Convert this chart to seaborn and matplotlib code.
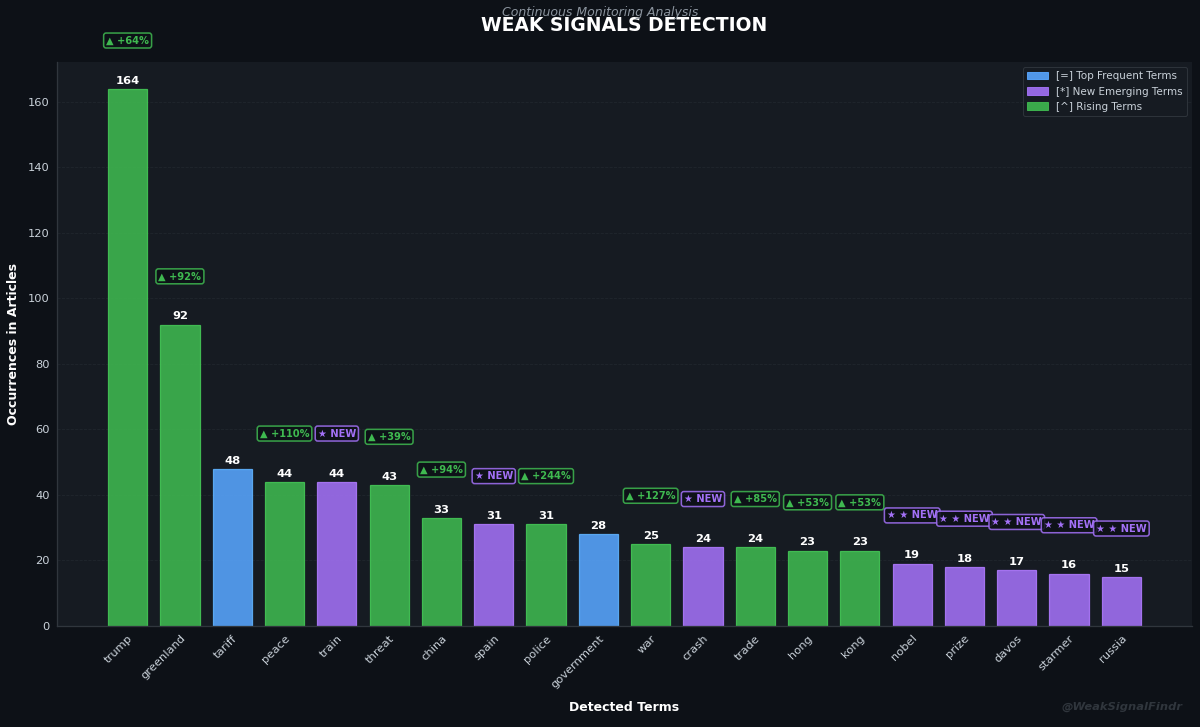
import matplotlib
matplotlib.use("Agg")
import matplotlib.pyplot as plt
import seaborn as sns
import pandas as pd
from matplotlib.patches import Patch

terms = ["trump", "greenland", "tariff", "peace", "train", "threat", "china", "spain",
         "police", "government", "war", "crash", "trade", "hong", "kong", "nobel",
         "prize", "davos", "starmer", "russia"]
counts = [164, 92, 48, 44, 44, 43, 33, 31, 31, 28, 25, 24, 24, 23, 23, 19, 18, 17, 16, 15]
kinds = ["R", "R", "T", "R", "N", "R", "R", "N", "R", "T", "R", "N", "R", "R", "R",
         "N", "N", "N", "N", "N"]
badges = ["▲ +64%", "▲ +92%", "", "▲ +110%", "★ NEW", "▲ +39%", "▲ +94%", "★ NEW",
          "▲ +244%", "", "▲ +127%", "★ NEW", "▲ +85%", "▲ +53%", "▲ +53%",
          "★ ★ NEW", "★ ★ NEW", "★ ★ NEW", "★ ★ NEW", "★ ★ NEW"]

kind_labels = {"T": "[=] Top Frequent Terms", "N": "[*] New Emerging Terms", "R": "[^] Rising Terms"}
kind_colors = {"T": "#58a6ff", "N": "#a371f7", "R": "#3fb950"}

FIG_BG = "#0d1117"
AX_BG = "#161b22"
TXT = "#c9d1d9"

sns.set_theme(style="dark")
plt.rcParams["font.family"] = ["DejaVu Sans"]

df = pd.DataFrame({"term": terms, "count": counts, "kind": kinds})

fig = plt.figure(figsize=(16, 727 / 75), dpi=75, facecolor=FIG_BG)
ax = fig.add_axes([57 / 1200, 1 - 626 / 727, (1192 - 57) / 1200, (626 - 62) / 727])
ax.set_facecolor(AX_BG)

sns.barplot(data=df, x="term", y="count", hue="kind", hue_order=["T", "N", "R"],
            palette=kind_colors, saturation=1, dodge=False, width=0.75, legend=False,
            ax=ax, alpha=0.88, linewidth=1.2)

for p in ax.patches:
    fc = p.get_facecolor()
    p.set_edgecolor((min(fc[0] * 1.08, 1), min(fc[1] * 1.08, 1), min(fc[2] * 1.08, 1), 1.0))

ymax = max(counts) * 1.05
ax.set_ylim(0, ymax)
ax.set_xlim(-1.35, len(terms) - 1 + 1.35)

off = max(counts) * 0.09
for i, (c, b, k) in enumerate(zip(counts, badges, kinds)):
    ax.text(i, c + 1, str(c), ha="center", va="bottom", color="white",
            fontsize=11, fontweight="bold")
    if b:
        col = kind_colors["N"] if "NEW" in b else kind_colors["R"]
        ax.text(i, c + off, b, ha="center", va="center", color=col, fontsize=9.5,
                fontweight="bold", clip_on=False,
                bbox=dict(boxstyle="round,pad=0.25", facecolor=FIG_BG, alpha=0.85,
                          edgecolor=col, linewidth=1.5))

ax.set_xlabel("Detected Terms", color="white", fontsize=12, fontweight="bold", labelpad=11)
ax.set_ylabel("Occurrences in Articles", color="white", fontsize=12, fontweight="bold", labelpad=8)
ax.set_title("WEAK SIGNALS DETECTION", color="white", fontsize=18, fontweight="bold", pad=30)
fig.text(0.5, 0.983, "Continuous Monitoring Analysis", ha="center", va="center",
         color="#8b949e", fontsize=12, fontstyle="italic")

ax.tick_params(axis="both", colors=TXT, labelsize=11, length=3.5, color="#8b949e")
plt.setp(ax.get_xticklabels(), rotation=45, ha="right", rotation_mode="anchor", fontsize=11)

ax.yaxis.grid(True, color="#30363d", alpha=0.4, linestyle="--", linewidth=0.8)
ax.set_axisbelow(True)
for s in ["top", "right"]:
    ax.spines[s].set_visible(False)
for s in ["left", "bottom"]:
    ax.spines[s].set_color("#30363d")

handles = [Patch(facecolor=kind_colors[k], alpha=0.9, edgecolor=kind_colors[k], label=kind_labels[k])
           for k in ["T", "N", "R"]]
leg = ax.legend(handles=handles, loc="upper right", fontsize=10, facecolor=AX_BG,
                edgecolor="#30363d", framealpha=0.9)
for t in leg.get_texts():
    t.set_color(TXT)

fig.text(0.985, 0.02, "@WeakSignalFindr", ha="right", va="bottom", color="#30363d",
         fontsize=11, fontstyle="italic", fontweight="bold")

fig.savefig("out.png", dpi=75, facecolor=FIG_BG)
